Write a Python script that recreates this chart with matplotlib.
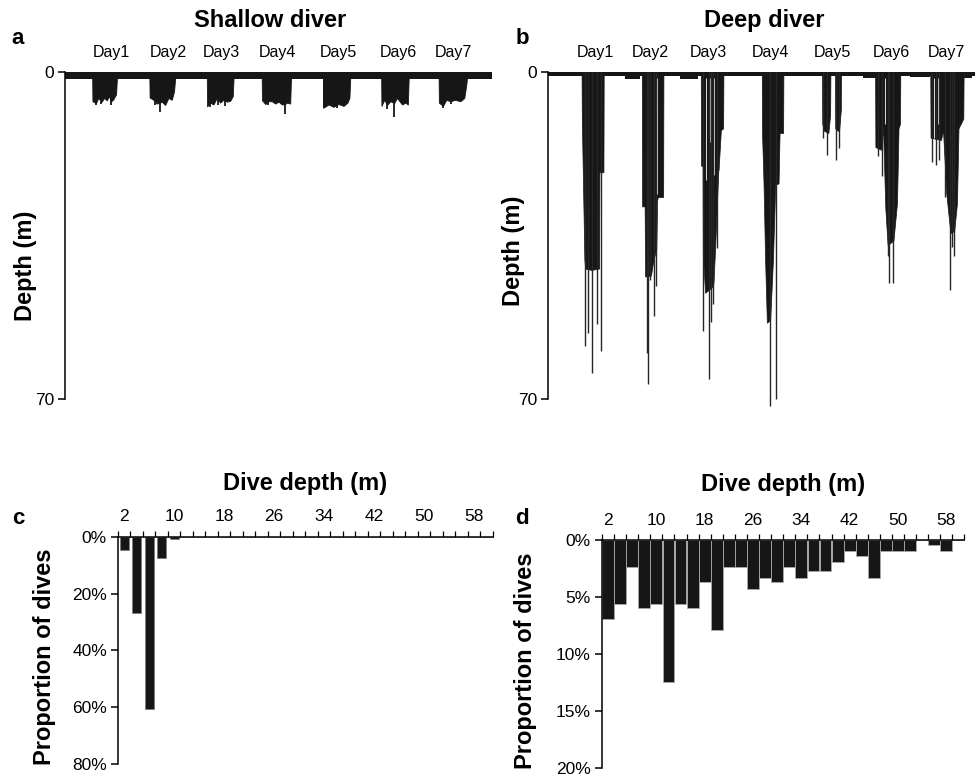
#----------------------------------------------------------------------
# Dive profiles (shallow vs deep diver) and dive-depth histograms
#----------------------------------------------------------------------
import matplotlib.pyplot as plt
import numpy as np

plt.rcParams['font.family'] = ['Liberation Sans', 'DejaVu Sans']

#------------------ Dive profile data (time in h, depth in m) ---------
day_labels = ['Day1', 'Day2', 'Day3', 'Day4', 'Day5', 'Day6', 'Day7']
shallow_day_pos = [18.1, 40.6, 61.4, 83.5, 107.5, 131.1, 152.8]
deep_day_pos = [18.5, 40.2, 63.1, 87.7, 111.9, 135.0, 156.9]

shallow_surface = 1.5
shallow_bouts = [
    ([10.7, 10.8, 12.2, 13.1, 14.4, 15.4, 16.4, 17.4, 18.0, 19.0, 20.1, 20.4],
     [1.5, 6.2, 6.6, 5.5, 6.3, 5.5, 6.0, 5.1, 6.3, 5.8, 4.7, 1.5]),
    ([33.2, 33.3, 34.8, 36.1, 37.4, 38.1, 39.4, 40.7, 42.0, 42.9, 43.3],
     [1.5, 5.4, 5.9, 6.7, 6.5, 6.3, 7.0, 5.5, 5.9, 4.1, 1.5]),
    ([55.8, 55.9, 57.1, 58.4, 59.7, 61.0, 62.3, 63.7, 65.0, 66.0, 66.3],
     [1.5, 7.3, 6.5, 6.9, 5.5, 6.5, 5.9, 6.3, 6.1, 5.1, 1.5]),
    ([77.4, 77.5, 78.8, 80.1, 81.4, 82.7, 84.0, 85.3, 86.6, 87.3, 88.6, 88.9],
     [1.5, 6.0, 6.8, 6.2, 6.2, 6.7, 6.3, 6.9, 6.8, 6.5, 6.7, 1.5]),
    ([101.5, 101.6, 103.7, 105.6, 107.6, 109.6, 111.1, 111.9, 112.2],
     [1.5, 7.6, 6.9, 7.4, 6.8, 7.2, 6.5, 5.5, 1.5]),
    ([124.4, 124.5, 125.6, 126.7, 128.0, 129.5, 130.6, 132.6, 133.9, 134.9, 135.2],
     [1.5, 7.2, 5.9, 7.0, 6.2, 6.6, 5.5, 6.9, 6.5, 6.9, 1.5]),
    ([147.0, 147.1, 148.7, 150.0, 151.6, 153.5, 155.5, 157.1, 157.9, 158.1],
     [1.5, 6.5, 7.2, 5.9, 6.2, 5.9, 6.2, 5.5, 2.6, 1.5]),
]
shallow_spike_t = [12.0, 14.3, 18.0, 35.4, 37.4, 57.0, 60.3, 63.0, 80.0, 86.6,
                   102.0, 107.0, 126.7, 129.5, 148.7, 152.0]
shallow_spike_d = [6.9, 6.7, 7.1, 6.9, 8.5, 7.4, 7.0, 7.2, 7.1, 8.9,
                   7.7, 7.6, 7.8, 9.6, 7.7, 6.8]

deep_surface = 0.8
deep_bouts = [
    ([13.2, 13.3, 14.3, 14.6, 17.0, 20.1, 20.2, 21.8, 21.9],
     [0.8, 10, 40, 42, 42.3, 42, 21.4, 21.4, 0.8]),
    ([36.9, 37.0, 38.0, 38.2, 40.5, 41.5, 42.6, 42.9, 43.2, 45.3, 45.4],
     [0.8, 28.7, 28.7, 43.7, 43.5, 40, 38, 27.5, 26.7, 26.7, 0.8]),
    ([60.1, 60.2, 60.8, 60.9, 61.8, 64.5, 65.1, 65.7, 67.0, 67.1, 68.0, 68.9, 69.0],
     [0.8, 20, 20, 38.7, 47.2, 46, 45, 38, 21, 20.9, 12.4, 12, 0.8]),
    ([84.1, 84.2, 84.8, 85.4, 86.1, 87.4, 88.5, 89.4, 90.7, 91.1, 92.5, 92.6],
     [0.8, 13, 24, 40, 53.6, 53, 40, 24, 23.8, 13, 13, 0.8]),
    ([107.8, 107.9, 108.5, 110.3, 111.0, 111.1],
     [0.8, 11, 12.5, 13, 9, 0.8]),
    ([112.9, 113.0, 114.5, 115.2, 115.3],
     [0.8, 12, 12.7, 8, 0.8]),
    ([128.7, 128.8, 131.1, 131.8, 132.7, 133.6, 135.9, 137.3, 137.9, 138.5, 138.6],
     [0.8, 16, 16.6, 11.7, 29, 37, 36, 28, 12, 11, 0.8]),
    ([150.4, 150.5, 154.6, 155.4, 156.7, 158.3, 159.8, 160.9, 161.5, 163.4, 163.5],
     [0.8, 14, 14.5, 12.4, 26, 34.4, 34, 28, 12, 9.9, 0.8]),
]
deep_spike_t = [14.6, 15.9, 17.2, 19.2, 20.9,
                38.9, 39.5, 40.0, 41.7, 42.5,
                61.1, 63.5, 64.0, 65.1, 66.4,
                87.4, 89.6,
                108.3, 109.7, 113.4, 114.3,
                130.0, 131.4, 133.6, 134.0, 135.9,
                151.1, 152.8, 153.9, 156.0, 158.0, 158.9, 159.8]
deep_spike_d = [58.6, 55.8, 64.3, 53.8, 59.7,
                60.0, 66.8, 44.4, 52.2, 45.8,
                55.4, 65.7, 53.5, 49.7, 37.6,
                71.4, 70.0,
                14.0, 17.7, 18.8, 16.3,
                18.0, 22.3, 39.4, 45.1, 45.1,
                19.1, 19.8, 18.8, 26.6, 46.5, 37.3, 39.4]
deep_patch_start = [30.3, 52.0, 124.0, 142.5, 163.5]
deep_patch_end = [36.2, 59.0, 129.5, 150.4, 167.0]
deep_patch_d = [1.4, 1.4, 1.2, 1.0, 1.2]
deep_gap_t = [41.5, 43.0, 62.1, 63.8, 65.4, 66.4, 129.8, 132.7, 135.7, 151.7, 153.3]
deep_gap_d = [25, 26, 23, 15, 22, 26, 12, 11, 10, 14, 11]

#------------------ Histogram data (% of dives per 2 m bin) -----------
depth_bins = [2, 4, 6, 8, 10, 12, 14, 16, 18, 20, 22, 24, 26, 28, 30,
              32, 34, 36, 38, 40, 42, 44, 46, 48, 50, 52, 54, 56, 58, 60]
shallow_prop = [4.6, 26.8, 60.7, 7.4, 0.9, 0, 0, 0, 0, 0, 0, 0, 0, 0, 0,
                0, 0, 0, 0, 0, 0, 0, 0, 0, 0, 0, 0, 0, 0, 0]
deep_prop = [6.9, 5.6, 2.35, 6.0, 5.6, 12.45, 5.6, 6.0, 3.7, 7.9, 2.35, 2.35, 4.25, 3.3, 3.7,
             2.35, 3.3, 2.75, 2.75, 1.9, 1.0, 1.4, 3.3, 1.0, 1.0, 1.0, 0, 0.45, 1.0, 0]
bin_labels = [2, 10, 18, 26, 34, 42, 50, 58]

BLACK = '#161616'

#--------------------------------------------------------------------------
#                  Plotting Logic
#--------------------------------------------------------------------------
fig = plt.figure(figsize=(9.76, 7.77), dpi=100)

ax_a = fig.add_axes([0.0666, 0.474, 0.4375, 0.433])
ax_b = fig.add_axes([0.5615, 0.474, 0.4375, 0.433])
ax_c = fig.add_axes([0.1209, 0.0167, 0.3842, 0.2926])
ax_d = fig.add_axes([0.6168, 0.0112, 0.3714, 0.2938])


def style_profile(ax, day_pos, ylab_x, ylab_y):
    ax.set_xlim(0, 168)
    ax.set_ylim(72, 0)
    for s in ['top', 'right', 'bottom']:
        ax.spines[s].set_visible(False)
    ax.spines['left'].set_bounds(0, 70)
    ax.spines['left'].set_linewidth(1.1)
    ax.set_yticks([0, 70])
    ax.set_yticklabels(['0', '70'])
    ax.tick_params(axis='y', direction='out', length=5, width=1.1, labelsize=12.5, pad=3)
    ax.xaxis.tick_top()
    ax.set_xticks(day_pos)
    ax.set_xticklabels(day_labels)
    ax.tick_params(axis='x', length=0, labelsize=11.5, pad=9)
    ax.set_ylabel('Depth (m)', fontsize=17, fontweight='bold')
    ax.yaxis.set_label_coords(ylab_x, ylab_y)


# (a) shallow diver
ax_a.fill_between([0, 168], 0, shallow_surface, color=BLACK, lw=0)
for t, d in shallow_bouts:
    ax_a.fill_between(t, 0, d, color=BLACK, lw=0.6, edgecolor=BLACK)
ax_a.vlines(shallow_spike_t, 0, shallow_spike_d, color=BLACK, lw=1.3)
style_profile(ax_a, shallow_day_pos, -0.066, 0.425)

# (b) deep diver
ax_b.fill_between([0, 168], 0, deep_surface, color=BLACK, lw=0)
for t0, t1, d in zip(deep_patch_start, deep_patch_end, deep_patch_d):
    ax_b.fill_between([t0, t1], 0, d, color=BLACK, lw=0)
for t, d in deep_bouts:
    ax_b.fill_between(t, 0, d, color=BLACK, lw=0.5, edgecolor=BLACK)
ax_b.vlines(deep_gap_t, 1.2, deep_gap_d, color='white', lw=0.6)
ax_b.vlines(deep_spike_t, 0, deep_spike_d, color='#262626', lw=1.0)
style_profile(ax_b, deep_day_pos, -0.054, 0.47)


def style_hist(ax, ymax, ystep, ylab_x, lpad):
    ax.set_xlim(1, 61)
    ax.set_ylim(ymax, 0)
    for s in ['right', 'bottom']:
        ax.spines[s].set_visible(False)
    ax.spines['top'].set_linewidth(1.1)
    ax.spines['left'].set_linewidth(1.1)
    ax.xaxis.tick_top()
    ax.xaxis.set_label_position('top')
    ax.set_xticks(bin_labels)
    ax.set_xticklabels([str(v) for v in bin_labels])
    ax.set_xticks(np.arange(1, 62, 2), minor=True)
    ax.tick_params(axis='x', which='major', length=0, labelsize=12.5, pad=9)
    ax.tick_params(axis='x', which='minor', direction='out', length=4, width=0.9)
    yt = np.arange(0, ymax + 0.01, ystep)
    ax.set_yticks(yt)
    ax.set_yticklabels(['%d%%' % v for v in yt])
    ax.tick_params(axis='y', direction='out', length=5, width=1.1, labelsize=12.5, pad=3)
    ax.set_xlabel('Dive depth (m)', fontsize=17, fontweight='bold', labelpad=lpad)
    ax.set_ylabel('Proportion of dives', fontsize=17, fontweight='bold')
    ax.yaxis.set_label_coords(ylab_x, 0.47)


# (c) shallow diver histogram
ax_c.bar(depth_bins, shallow_prop, width=1.45, color=BLACK, edgecolor='#777777', lw=0.4)
style_hist(ax_c, 80, 20, -0.165, 13.5)

# (d) deep diver histogram
ax_d.bar(depth_bins, deep_prop, width=1.95, color=BLACK, edgecolor='#aaaaaa', lw=0.6)
style_hist(ax_d, 20, 5, -0.18, 15.5)

#------------------ Titles and panel letters ---------------------------
fig.text(0.2766, 0.974, 'Shallow diver', fontsize=17, fontweight='bold', ha='center', va='center')
fig.text(0.7828, 0.974, 'Deep diver', fontsize=17, fontweight='bold', ha='center', va='center')
for lbl, x, y in [('a', 0.012, 0.951), ('b', 0.528, 0.951), ('c', 0.012, 0.333), ('d', 0.528, 0.333)]:
    fig.text(x, y, lbl, fontsize=16, fontweight='bold', ha='left', va='center')

fig.savefig('out.png', dpi=100)
print("Completed Successfully ...")
